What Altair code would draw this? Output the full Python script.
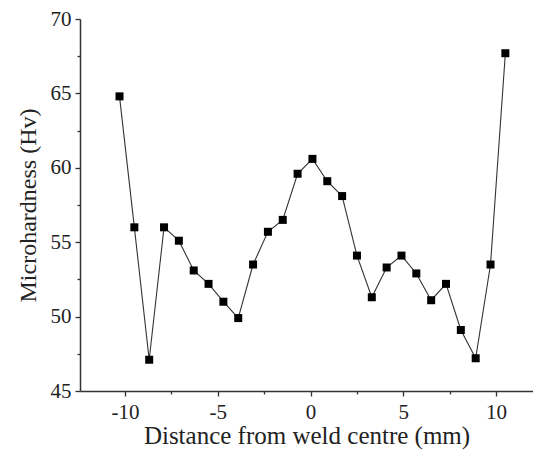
import altair as alt
import pandas as pd

# Distance from weld centre (mm)
x_mm = [-10.3, -9.5, -8.7, -7.9, -7.1, -6.3, -5.5, -4.7, -3.9, -3.1, -2.3, -1.5, -0.7,
        0.1, 0.9, 1.7, 2.5, 3.3, 4.1, 4.9, 5.7, 6.5, 7.3, 8.1, 8.9, 9.7, 10.5]
# Microhardness (Hv)
hv = [64.8, 56.0, 47.1, 56.0, 55.1, 53.1, 52.2, 51.0, 49.9, 53.5, 55.7, 56.5, 59.6,
      60.6, 59.1, 58.1, 54.1, 51.3, 53.3, 54.1, 52.9, 51.1, 52.2, 49.1, 47.2, 53.5, 67.7]

x_ticks = [-10, -7.5, -5, -2.5, 0, 2.5, 5, 7.5, 10]
y_ticks = [45, 47.5, 50, 52.5, 55, 57.5, 60, 62.5, 65, 67.5, 70]

df = pd.DataFrame({"x": x_mm, "y": hv})

FONT = "Liberation Serif"
tick_size = {"condition": {"test": "datum.value % 5 === 0", "value": 5}, "value": 3}
label_expr = "datum.value % 5 === 0 ? '' + datum.value : ''"

x_enc = alt.X("x:Q",
              scale=alt.Scale(domain=[-12.43, 11.99], nice=False, zero=False),
              axis=alt.Axis(title="Distance from weld centre (mm)", values=x_ticks,
                            labelExpr=label_expr, tickSize=tick_size, labelPadding=5,
                            titlePadding=1, titleFontSize=25, grid=False, labelFlush=False))
y_enc = alt.Y("y:Q",
              scale=alt.Scale(domain=[45, 70], nice=False, zero=False),
              axis=alt.Axis(title="Microhardness (Hv)", values=y_ticks,
                            labelExpr=label_expr, tickSize=tick_size, labelPadding=4,
                            titlePadding=10, grid=False))

base = alt.Chart(df).encode(x=x_enc, y=y_enc)
line = base.mark_line(color="#333333", strokeWidth=1.1)
pts = base.mark_point(shape="square", filled=True, color="#000000", size=64, opacity=1)

chart = (line + pts).properties(
    width=453, height=372,
    autosize=alt.AutoSizeParams(type="none"),
    padding={"left": 72, "top": 11, "right": 0, "bottom": 60},
).configure_view(stroke=None).configure_axis(
    domainColor="#333333", domainWidth=1.5, tickColor="#333333", tickWidth=1.3,
    labelFont=FONT, labelFontSize=21, labelColor="#222222",
    titleFont=FONT, titleFontSize=24, titleFontWeight="normal", titleColor="#222222",
)

chart.save("out.html", embed_options={"renderer": "svg", "actions": False})
